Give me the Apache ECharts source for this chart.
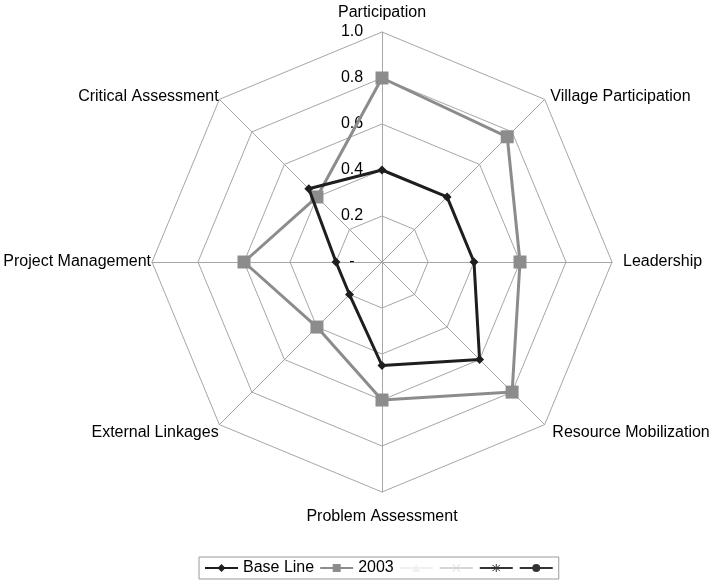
<!DOCTYPE html>
<html>
<head>
<meta charset="utf-8">
<script src="https://cdn.jsdelivr.net/npm/echarts@6/dist/echarts.min.js"></script>
<style>
  html, body { margin: 0; padding: 0; background: #fff; }
  #chart { width: 714px; height: 583px; }
</style>
</head>
<body>
<div id="chart"></div>
<script>
// axes in clockwise order, starting at the top
const categories = [
  "Participation",
  "Village Participation",
  "Leadership",
  "Resource Mobilization",
  "Problem Assessment",
  "External Linkages",
  "Project Management",
  "Critical Assessment",
];
const baseLine = [0.4, 0.4, 0.4, 0.6, 0.45, 0.2, 0.2, 0.45];
const y2003 = [0.8, 0.77, 0.6, 0.8, 0.6, 0.4, 0.6, 0.4];
const tickValues = [0, 0.2, 0.4, 0.6, 0.8, 1.0];
const tickLabels = ["-", "0.2", "0.4", "0.6", "0.8", "1.0"];

// echarts lays radar axes out counter-clockwise, so flip everything after the first
const flip = (arr) => [arr[0]].concat(arr.slice(1).reverse());

const chart = echarts.init(document.getElementById("chart"));
const center = [382, 262];
const radius = 230;

// gap between each axis end and its name, [top, right, bottom, left]
const namePad = [
  [0, 0, 10, 0],
  [0, 0, 4, 5],
  [0, 0, 0, 10],
  [14, 0, 0, 7],
  [16, 0, 0, 0],
  [14, 0, 0, 0],
  [0, 0, 0, 0],
  [0, 0, 4, 0],
];
const rich = {};
namePad.forEach((p, i) => {
  rich["n" + i] = { padding: p, fontSize: 16, color: "#000" };
});

// filled marker shapes for the legend (legend icons are filled, not stroked)
const xPath = "path://M-7,-8 L-8,-7 L7,8 L8,7 Z M-8,7 L-7,8 L8,-7 L7,-8 Z";
const starPath = "path://M-7,-8 L-8,-7 L7,8 L8,7 Z M-8,7 L-7,8 L8,-7 L7,-8 Z M-1,10 L1,10 L1,-10 L-1,-10 Z";

// empty line series, only used to give the legend line+marker icons
const legendSeries = [
  { name: "Base Line", color: "#1e1e1e", symbol: "diamond", size: 8 },
  { name: "2003", color: "#8c8c8c", symbol: "rect", size: 10 },
  { name: "s3", color: "#f0f0f0", symbol: "triangle", size: 8 },
  { name: "s4", color: "#d6d6d6", symbol: xPath, size: 9 },
  { name: "s5", color: "#333333", symbol: starPath, size: 10 },
  { name: "s6", color: "#333333", symbol: "circle", size: 8 },
].map((s) => ({
  type: "line",
  name: s.name,
  coordinateSystem: "polar",
  data: [],
  symbol: s.symbol,
  symbolSize: s.size,
  itemStyle: { color: s.color, borderColor: s.color },
  lineStyle: { color: s.color, width: 2 },
}));

chart.setOption({
  backgroundColor: "#fff",
  animation: false,
  textStyle: { fontFamily: "Liberation Sans, Arial, sans-serif" },
  legend: {
    left: 199,
    top: 557,
    orient: "horizontal",
    data: legendSeries.map((s) => s.name),
    formatter: (name) => (name.startsWith("s") ? "" : name),
    itemWidth: 33,
    itemHeight: 10,
    itemGap: 5,
    padding: [3, 5],
    borderColor: "#9a9a9a",
    borderWidth: 1,
    textStyle: { fontSize: 16, color: "#000" },
  },
  radar: {
    center: center,
    radius: radius,
    shape: "polygon",
    splitNumber: 5,
    startAngle: 90,
    indicator: flip(categories).map((c) => ({ name: c, min: 0, max: 1 })),
    axisName: {
      color: "#000",
      fontSize: 16,
      formatter: (name) => "{n" + categories.indexOf(name) + "|" + name + "}",
      rich: rich,
    },
    nameGap: 1,
    axisLine: { lineStyle: { color: "#a6a6a6", width: 1 } },
    splitLine: { lineStyle: { color: "#a6a6a6", width: 1 } },
    splitArea: { show: false },
  },
  polar: { center: center, radius: radius },
  angleAxis: {
    startAngle: 90,
    min: 0,
    max: 360,
    show: false,
  },
  radiusAxis: {
    min: 0,
    max: 1,
    interval: 0.2,
    axisLine: { show: false },
    axisTick: { show: false },
    splitLine: { show: false },
    axisLabel: {
      fontSize: 16,
      color: "#000",
      align: "center",
      margin: 30,
      formatter: (v) => {
        const i = tickValues.findIndex((t) => Math.abs(t - v) < 1e-6);
        return i >= 0 ? tickLabels[i] : "";
      },
    },
  },
  series: legendSeries.concat([
    {
      type: "radar",
      name: "Base Line",
      symbol: "diamond",
      symbolSize: 9,
      lineStyle: { color: "#1e1e1e", width: 3 },
      itemStyle: { color: "#1e1e1e" },
      z: 3,
      data: [{ value: flip(baseLine), name: "Base Line" }],
    },
    {
      type: "radar",
      name: "2003",
      symbol: "rect",
      symbolSize: 13,
      lineStyle: { color: "#8c8c8c", width: 3 },
      itemStyle: { color: "#8c8c8c" },
      z: 2,
      data: [{ value: flip(y2003), name: "2003" }],
    },
  ]),
});
</script>
</body>
</html>
